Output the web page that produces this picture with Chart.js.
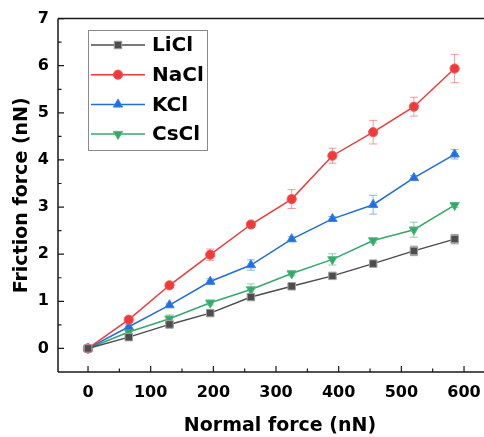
<!DOCTYPE html>
<html>
<head>
<meta charset="utf-8">
<script src="https://cdn.jsdelivr.net/npm/chart.js@4.4.1/dist/chart.umd.min.js"></script>
<style>
    html, body { margin: 0; padding: 0; background: #fff; overflow: hidden; }
    #wrap { position: relative; width: 484px; height: 437px; }
</style>
</head>
<body>
<div id="wrap"><canvas id="friction-chart"></canvas></div>
<script>
// Data
const normalForce = [0, 65, 130, 195, 260, 325, 390, 455, 520, 585];
const seriesNames = ['LiCl', 'NaCl', 'KCl', 'CsCl'];
const liclForce = [0, 0.24, 0.51, 0.75, 1.09, 1.32, 1.54, 1.80, 2.07, 2.32];
const liclErr   = [0.03, 0.03, 0.03, 0.04, 0.05, 0.04, 0.04, 0.05, 0.10, 0.10];
const naclForce = [0, 0.61, 1.34, 1.99, 2.63, 3.17, 4.09, 4.59, 5.13, 5.94];
const naclErr   = [0.03, 0.05, 0.05, 0.12, 0.06, 0.20, 0.16, 0.25, 0.20, 0.30];
const kclForce  = [0, 0.46, 0.92, 1.42, 1.77, 2.32, 2.75, 3.05, 3.62, 4.12];
const kclErr    = [0.03, 0.04, 0.04, 0.06, 0.11, 0.05, 0.05, 0.20, 0.05, 0.10];
const csclForce = [0, 0.35, 0.63, 0.97, 1.25, 1.59, 1.89, 2.29, 2.52, 3.04];
const csclErr   = [0.03, 0.05, 0.08, 0.05, 0.12, 0.05, 0.12, 0.05, 0.16, 0.05];
const xTicks = [0, 100, 200, 300, 400, 500, 600];
const yTicks = [0, 1, 2, 3, 4, 5, 6, 7];

const FONT = '"DejaVu Sans", Arial, sans-serif';
const PLOT_RIGHT = 502; // the frame runs past the right edge of the picture

function makeSeries(label, ys, errs, color, edge, errColor, style, radius, rotation) {
    return {
        label,
        data: normalForce.map((x, i) => ({ x, y: ys[i] })),
        errors: errs,
        errColor,
        borderColor: color,
        backgroundColor: color,
        borderWidth: 1.5,
        pointStyle: style,
        pointRadius: radius,
        pointHoverRadius: radius,
        pointRotation: rotation || 0,
        pointBorderWidth: 1,
        pointBorderColor: edge,
        pointBackgroundColor: color,
        tension: 0,
        fill: false
    };
}

const datasets = [
    makeSeries(seriesNames[0], liclForce, liclErr, '#4d4d4d', '#a0a0a0', 'rgba(80,80,80,0.55)', 'rect', 5.3),
    makeSeries(seriesNames[1], naclForce, naclErr, '#f03a3a', '#f25a5a', 'rgba(240,60,60,0.5)', 'circle', 4.6),
    makeSeries(seriesNames[2], kclForce, kclErr, '#1f6fde', '#3f84e4', 'rgba(31,111,224,0.5)', 'triangle', 5.4),
    makeSeries(seriesNames[3], csclForce, csclErr, '#35a86b', '#55b882', 'rgba(58,170,106,0.55)', 'triangle', 5.4, 180)
];

// error bars, frame with inward ticks, legend inside plot
const decorations = {
    id: 'decorations',
    afterLayout(chart) {
        const a = chart.chartArea;
        a.right = PLOT_RIGHT;
        a.width = a.right - a.left;
        const x = chart.scales.x;
        x.right = PLOT_RIGHT;
        x.width = x.right - x.left;
        x.configure();
    },
    beforeDatasetsDraw(chart) {
        const { ctx, scales: { x, y } } = chart;
        ctx.save();
        chart.data.datasets.forEach(ds => {
            ctx.strokeStyle = ds.errColor;
            ctx.lineWidth = 1;
            ds.data.forEach((p, i) => {
                const e = ds.errors[i];
                const px = x.getPixelForValue(p.x);
                const t = y.getPixelForValue(p.y + e);
                const b = y.getPixelForValue(p.y - e);
                ctx.beginPath();
                ctx.moveTo(px, t); ctx.lineTo(px, b);
                ctx.moveTo(px - 4, t); ctx.lineTo(px + 4, t);
                ctx.moveTo(px - 4, b); ctx.lineTo(px + 4, b);
                ctx.stroke();
            });
        });
        ctx.restore();
    },
    afterDraw(chart) {
        const { ctx, chartArea: a, scales: { x, y } } = chart;
        ctx.save();
        ctx.strokeStyle = '#1a1a1a';
        ctx.lineWidth = 1.5;
        ctx.beginPath();
        ctx.moveTo(a.left, a.top); ctx.lineTo(a.right, a.top);
        ctx.moveTo(a.left, a.top); ctx.lineTo(a.left, a.bottom);
        ctx.moveTo(a.left, a.bottom); ctx.lineTo(a.right, a.bottom);
        ctx.stroke();

        // inward ticks
        ctx.lineWidth = 1.2;
        ctx.beginPath();
        yTicks.forEach(v => {
            const py = y.getPixelForValue(v);
            ctx.moveTo(a.left, py); ctx.lineTo(a.left + 6, py);
            const pm = y.getPixelForValue(v + 0.5);
            if (pm > a.top + 1) { ctx.moveTo(a.left, pm); ctx.lineTo(a.left + 3.5, pm); }
        });
        xTicks.forEach(v => {
            const px = x.getPixelForValue(v);
            ctx.moveTo(px, a.bottom); ctx.lineTo(px, a.bottom - 6);
            const pm = x.getPixelForValue(v + 50);
            if (pm < a.right) { ctx.moveTo(pm, a.bottom); ctx.lineTo(pm, a.bottom - 3.5); }
        });
        ctx.stroke();

        // legend
        const box = { left: 88, top: 30, width: 119, height: 120 };
        ctx.fillStyle = '#fff';
        ctx.fillRect(box.left, box.top, box.width, box.height);
        ctx.strokeStyle = '#8a8a8a';
        ctx.lineWidth = 1;
        ctx.strokeRect(box.left + 0.5, box.top + 0.5, box.width, box.height);
        ctx.font = 'bold 20px ' + FONT;
        ctx.textBaseline = 'middle';
        ctx.textAlign = 'left';
        chart.data.datasets.forEach((ds, i) => {
            const ry = 45 + i * 29.7;
            ctx.strokeStyle = ds.borderColor;
            ctx.lineWidth = 1.5;
            ctx.beginPath();
            ctx.moveTo(91, ry); ctx.lineTo(145, ry);
            ctx.stroke();
            ctx.fillStyle = ds.pointBackgroundColor;
            ctx.strokeStyle = ds.pointBorderColor;
            ctx.lineWidth = 1;
            Chart.helpers.drawPoint(ctx, {
                pointStyle: ds.pointStyle,
                rotation: ds.pointRotation,
                radius: ds.pointRadius,
                borderWidth: 1
            }, 118, ry);
            ctx.fillStyle = '#000';
            ctx.fillText(ds.label, 152, ry + 1);
        });
        ctx.restore();
    }
};

new Chart(document.getElementById('friction-chart'), {
    type: 'line',
    data: { datasets },
    options: {
        responsive: true,
        maintainAspectRatio: false,
        animation: false,
        layout: { padding: { top: 17, right: 0, left: 0, bottom: 0 } },
        plugins: { legend: { display: false }, tooltip: { enabled: false } },
        scales: {
            x: {
                type: 'linear',
                min: -47.9,
                max: 660.6,
                afterBuildTicks: s => { s.ticks = xTicks.map(v => ({ value: v })); },
                afterFit: s => { s.height = 65; },
                grid: { display: false, drawTicks: false },
                border: { display: false },
                ticks: {
                    autoSkip: false, maxRotation: 0, padding: 11, color: '#000',
                    font: { family: FONT, size: 16, weight: 'bold' }
                },
                title: {
                    display: true, text: 'Normal force (nN)', color: '#000',
                    padding: { top: 0, bottom: 0 },
                    font: { family: FONT, size: 19, weight: 'bold' }
                }
            },
            y: {
                min: -0.5,
                max: 7,
                afterBuildTicks: s => { s.ticks = yTicks.map(v => ({ value: v })); },
                afterFit: s => { s.width = 58; },
                grid: { display: false, drawTicks: false },
                border: { display: false },
                ticks: {
                    autoSkip: false, padding: 9, color: '#000',
                    font: { family: FONT, size: 16, weight: 'bold' }
                },
                title: {
                    display: true, text: 'Friction force (nN)', color: '#000',
                    padding: { top: 11, bottom: 0 },
                    font: { family: FONT, size: 19, weight: 'bold' }
                }
            }
        }
    },
    plugins: [decorations]
});
</script>
</body>
</html>
